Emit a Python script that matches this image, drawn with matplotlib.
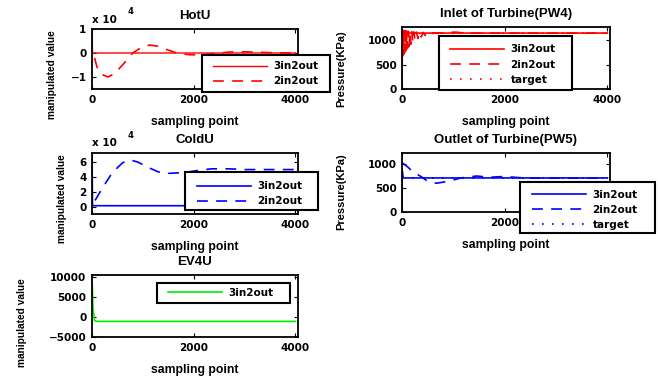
import numpy as np
import matplotlib
matplotlib.use('Agg')
import matplotlib.pyplot as plt
from matplotlib.patches import Rectangle

plt.rcParams['font.family'] = ['DejaVu Sans']
plt.rcParams['font.weight'] = 'bold'
FS = 7.5
plt.rcParams['font.size'] = FS
TXT = ['Liberation Sans', 'DejaVu Sans']

# ---- data ----
# HotU (values x 1e4)
hot_3in_x = [0, 10, 4000]
hot_3in_y = [1.0, 0.0, 0.0]
hot_2in_x = [50, 100, 200, 315, 450, 600, 800, 1000, 1140, 1300, 1500, 1670,
             1900, 2100, 2300, 2500, 2700, 3000, 3300, 3600, 4000]
hot_2in_y = [-0.2, -0.6, -0.9, -1.0, -0.85, -0.5, 0.0, 0.27, 0.33, 0.28, 0.12, 0.0,
             -0.07, -0.08, -0.05, 0.0, 0.04, 0.05, 0.03, 0.01, 0.0]

# ColdU (values x 1e4)
cold_3in_x = [0, 10, 4000]
cold_3in_y = [7.3, 0.2, 0.2]
cold_2in_x = [60, 200, 400, 600, 740, 900, 1100, 1300, 1515, 1800, 2100, 2350,
              2700, 3000, 3500, 4000]
cold_2in_y = [0.9, 2.5, 4.6, 5.9, 6.3, 6.0, 5.3, 4.7, 4.5, 4.6, 4.9, 5.1,
              5.1, 5.0, 5.0, 5.0]

# EV4U
ev_3in_x = [0, 20, 50, 100, 4000]
ev_3in_y = [10000, 2000, -900, -1100, -1100]

# Inlet of Turbine (PW4)
pw4_3in_x = [0, 5, 15, 30, 60, 100, 4000]
pw4_3in_y = [0, 1200, 1050, 1180, 1120, 1150, 1150]
pw4_2in_x = [0, 10, 20, 30, 40, 50, 60, 72, 84, 96, 110, 125, 140, 155, 172, 190,
             210, 230, 255, 280, 310, 340, 375, 410, 450, 500, 560, 630, 720, 900,
             1050, 1200, 4000]
pw4_2in_y = [0, 1220, 680, 1210, 720, 1200, 760, 1195, 800, 1190, 840, 1185, 880,
             1180, 920, 1178, 960, 1175, 1000, 1172, 1040, 1170, 1070, 1165, 1100,
             1160, 1120, 1155, 1150, 1165, 1170, 1150, 1150]
pw4_target_x = [0, 4000]
pw4_target_y = [1150, 1150]

# Outlet of Turbine (PW5)
pw5_3in_x = [0, 5, 20, 40, 4000]
pw5_3in_y = [0, 860, 730, 710, 710]
pw5_2in_x = [10, 100, 200, 383, 500, 673, 900, 1150, 1450, 1710, 2000, 2300, 2600, 4000]
pw5_2in_y = [1020, 950, 850, 730, 640, 600, 640, 710, 750, 725, 740, 715, 705, 705]
pw5_target_x = [0, 4000]
pw5_target_y = [710, 710]

x_ticks = [0, 2000, 4000]

W, H = 658, 376
fig = plt.figure(figsize=(W / 100, H / 100), dpi=100)


def fx(px):
    return px / W


def fy(py):
    return 1 - py / H


def make_ax(l, t, r, b, title, ylabel, lab_x, lab_y, lab_fs):
    ax = fig.add_axes([fx(l), fy(b), (r - l) / W, (b - t) / H])
    for s in ax.spines.values():
        s.set_linewidth(1.3)
    ax.tick_params(direction='in', top=True, right=True, length=3, width=0.8,
                   pad=4, labelsize=FS)
    ax.set_xlim(0, 4050)
    ax.set_xticks(x_ticks)
    ax.set_xlabel('sampling point', family=TXT, fontsize=8.8, fontweight='bold', labelpad=8.5)
    ax.set_title(title, family=TXT, fontsize=9.5, fontweight='bold', pad=7.5)
    ax.set_ylabel(ylabel, family=TXT, fontsize=lab_fs, fontweight='bold', va='center')
    ax.yaxis.set_label_coords(fx(lab_x), fy(lab_y), transform=fig.transFigure)
    return ax


def put_legend(ax, box, hx, row1):
    x0, y0, x1, y1 = box
    rect = Rectangle((fx(x0), fy(y1)), (x1 - x0) / W, (y1 - y0) / H,
                     transform=fig.transFigure, facecolor='white',
                     edgecolor='black', lw=1.5, zorder=4.9, clip_on=False)
    ax.add_artist(rect)
    leg = ax.legend(loc='upper left', bbox_to_anchor=(fx(hx), fy(row1 - 5.5)),
                    bbox_transform=fig.transFigure, borderaxespad=0, borderpad=0,
                    frameon=False, handlelength=5.2, handletextpad=0.6,
                    labelspacing=0.5, fontsize=FS)
    leg.set_zorder(5)
    return leg


dash = (0, (6.5, 5))
dot = (0, (1, 5))
red = '#ff0000'
blue = '#0000ff'
green = '#00ee00'

# HotU
ax = make_ax(92, 29, 298, 89, 'HotU', 'manipulated value', 52, 75, 7.3)
ax.plot(hot_3in_x, hot_3in_y, color=red, lw=1, label='3in2out')
ax.plot(hot_2in_x, hot_2in_y, color=red, lw=1.2, ls=dash, label='2in2out')
ax.set_ylim(-1.5, 1)
ax.set_yticks([-1, 0, 1])
fig.text(fx(92), fy(20), 'x 10', ha='left', va='center', fontweight='bold')
fig.text(fx(130), fy(12), '4', ha='center', va='center', fontsize=6, fontweight='bold')
put_legend(ax, (202, 55, 330, 92), 213, 66.7)

# Inlet of Turbine (PW4)
ax = make_ax(402, 27, 610, 89, 'Inlet of Turbine(PW4)', 'Pressure(KPa)', 341, 69, 8)
ax.plot(pw4_3in_x, pw4_3in_y, color=red, lw=1.2, label='3in2out')
ax.plot(pw4_2in_x, pw4_2in_y, color=red, lw=1.2, ls=dash, label='2in2out')
ax.plot(pw4_target_x, pw4_target_y, color=red, lw=1.2, ls=dot, label='target')
ax.set_ylim(0, 1275)
ax.set_yticks([0, 500, 1000])
put_legend(ax, (439, 36, 572, 90), 450, 50)

# ColdU
ax = make_ax(92, 153, 298, 214, 'ColdU', 'manipulated value', 62, 199, 7.3)
ax.plot(cold_3in_x, cold_3in_y, color=blue, lw=1.2, label='3in2out')
ax.plot(cold_2in_x, cold_2in_y, color=blue, lw=1.2, ls=dash, label='2in2out')
ax.set_ylim(-0.9, 7.2)
ax.set_yticks([0, 2, 4, 6])
fig.text(fx(92), fy(143), 'x 10', ha='left', va='center', fontweight='bold')
fig.text(fx(130), fy(135), '4', ha='center', va='center', fontsize=6, fontweight='bold')
put_legend(ax, (185, 172, 318, 210), 197, 186.7)

# Outlet of Turbine (PW5)
ax = make_ax(402, 153, 610, 212, 'Outlet of Turbine(PW5)', 'Pressure(KPa)', 341, 192, 8)
ax.plot(pw5_3in_x, pw5_3in_y, color=blue, lw=1.2, label='3in2out')
ax.plot(pw5_2in_x, pw5_2in_y, color=blue, lw=1.2, ls=dash, label='2in2out')
ax.plot(pw5_target_x, pw5_target_y, color=blue, lw=1.2, ls=dot, label='target')
ax.set_ylim(0, 1230)
ax.set_yticks([0, 500, 1000])
ax.set_xticklabels(['0', '2000', ''])  # 4000 is hidden under the legend
put_legend(ax, (520, 182, 655, 233), 532, 195)

# EV4U
ax = make_ax(92, 275, 298, 337, 'EV4U', 'manipulated value', 22, 323, 7.3)
ax.plot(ev_3in_x, ev_3in_y, color=green, lw=1.2, label='3in2out')
ax.set_ylim(-5000, 10500)
ax.set_yticks([-5000, 0, 5000, 10000])
put_legend(ax, (157, 283, 290, 303), 168, 293.3)

fig.savefig('out.png', dpi=100)
